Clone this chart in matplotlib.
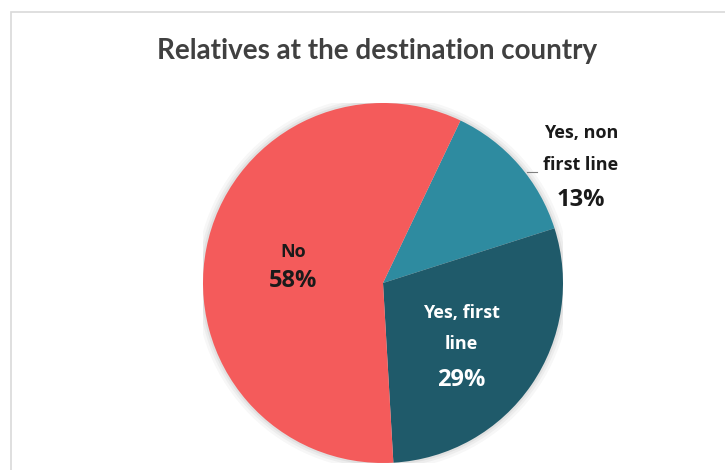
import matplotlib.pyplot as plt
from matplotlib.patches import Rectangle

# Relatives at the destination country
categories = ['Yes, non\nfirst line', 'Yes, first\nline', 'No']
shares = [13, 29, 58]
colors = ['#2e8ba0', '#1f5a6a', '#f45b5b']

fig = plt.figure(figsize=(7.25, 4.7), dpi=100)

# chart frame (only left and top edges are visible in the crop)
fig.patches.append(Rectangle((11 / 725, -0.5), 2, 1.5 - 12 / 470, transform=fig.transFigure,
                             fill=False, edgecolor='#d9d9d9', linewidth=1.2))

ax = fig.add_axes([203 / 725, 7 / 470, 360 / 725, 360 / 470])
# soft shadow behind the pie
for r, a in [(1.04, 0.03), (1.025, 0.04), (1.012, 0.05)]:
    ax.add_patch(plt.Circle((0, 0.0), r, color='#000000', alpha=a, lw=0))
wedges, _ = ax.pie(shares, colors=colors, startangle=64.5, counterclock=False,
                   radius=1, wedgeprops=dict(linewidth=0))
ax.set_xlim(-1, 1)
ax.set_ylim(-1, 1)
ax.set_aspect('equal')
ax.axis('off')

lab_font = 'Open Sans'
name_fs, pct_fs = 13, 17

# No
ax.text(-0.5, 0.172, 'No', ha='center', va='center', fontsize=name_fs,
        fontweight='bold', color='#1a1a1a', family=lab_font)
ax.text(-0.5, 0.011, f'{shares[2]}%', ha='center', va='center', fontsize=pct_fs,
        fontweight='bold', color='#1a1a1a', family=lab_font)

# Yes, first line
ax.text(0.435, -0.167, 'Yes, first', ha='center', va='center', fontsize=name_fs,
        fontweight='bold', color='white', family=lab_font)
ax.text(0.435, -0.34, 'line', ha='center', va='center', fontsize=name_fs,
        fontweight='bold', color='white', family=lab_font)
ax.text(0.435, -0.54, f'{shares[1]}%', ha='center', va='center', fontsize=pct_fs,
        fontweight='bold', color='white', family=lab_font)

# Yes, non first line (outside, with a short leader)
ax.text(1.10, 0.833, 'Yes, non', ha='center', va='center', fontsize=name_fs,
        fontweight='bold', color='#1a1a1a', family=lab_font, clip_on=False)
ax.text(1.10, 0.656, 'first line', ha='center', va='center', fontsize=name_fs,
        fontweight='bold', color='#1a1a1a', family=lab_font, clip_on=False)
ax.text(1.10, 0.461, f'{shares[0]}%', ha='center', va='center', fontsize=pct_fs,
        fontweight='bold', color='#1a1a1a', family=lab_font, clip_on=False)
ax.plot([0.80, 0.855], [0.617, 0.617], color='#7f7f7f', lw=0.8, clip_on=False)

fig.text(377 / 725, 1 - 51 / 470, 'Relatives at the destination country', ha='center',
         va='center', fontsize=20, color='#404040', fontweight='bold', family='Lato')

fig.savefig('out.png', dpi=100, facecolor='white')
